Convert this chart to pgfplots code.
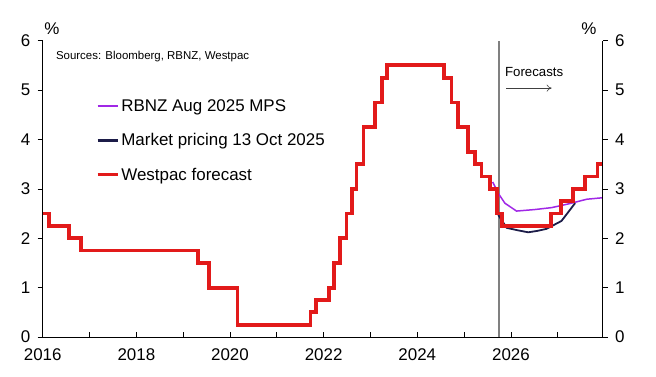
\documentclass[border=0pt]{standalone}
\usepackage{pgfplots}
\pgfplotsset{compat=1.18}
\usepackage{fontspec}
\setmainfont{Liberation Sans}
\usetikzlibrary{arrows.meta}
\definecolor{wred}{RGB}{226,26,26}
\definecolor{wpurple}{RGB}{160,40,230}
\definecolor{wnavy}{RGB}{28,28,72}
\definecolor{wgray}{RGB}{128,128,128}
\begin{document}
\begin{tikzpicture}
\useasboundingbox (-42.7bp,-40bp) rectangle (613.3bp,337bp);
\pgfplotsset{every axis/.append style={
  scale only axis, width=560bp, height=296.3bp,
  xmin=2016, xmax=2027.96, ymin=0, ymax=6,
  /pgf/number format/assume math mode=true,
  /pgf/number format/1000 sep={},
  tick label style={font=\fontsize{17}{17}\selectfont},
  major tick length=5bp, minor tick length=5bp,
  axis line style={line width=0.8pt, black},
  every tick/.style={black, line width=0.7pt},
}}
% main axis with x ticks and data
\begin{axis}[
  axis x line*=bottom, axis y line*=left,
  tick align=inside,
  xtick={2016,2018,...,2026}, minor xtick={2017,2019,...,2027},
  ytick=\empty,
  xticklabel style={yshift=-8.5bp},
  clip=false,
  legend style={draw=none, fill=none, at={(0.095,0.808)}, anchor=north west,
    inner sep=0pt, row sep=16.5bp, font=\fontsize{17}{17}\selectfont},
  legend cell align=left,
  legend image code/.code={\draw[#1] (0bp,0bp) -- (20bp,0bp);},
]
\addplot[wgray, line width=1.5pt, forget plot] coordinates {(2025.75,0) (2025.75,6)};
\addplot[wpurple, line width=1.5pt, legend image post style={line width=2pt}] coordinates {
(2025.61,3.14) (2025.73,2.91) (2025.87,2.71) (2026.12,2.55) (2026.5,2.58) (2026.87,2.62) (2027.25,2.70) (2027.62,2.79) (2027.96,2.82)};
\addlegendentry{RBNZ Aug 2025 MPS}
\addplot[wnavy, line width=1.8pt, legend image post style={line width=2.4pt}] coordinates {
(2025.73,2.47) (2025.91,2.21) (2026.15,2.16) (2026.37,2.12) (2026.57,2.15) (2026.76,2.19) (2027.08,2.35) (2027.37,2.71)};
\addlegendentry{Market pricing 13 Oct 2025}
\addplot[wred, line width=3.8pt, const plot, line join=miter, legend image post style={line width=3.3pt}] table {
x y
2016.00 2.5
2016.14 2.25
2016.56 2.0
2016.81 1.75
2019.32 1.5
2019.55 1.0
2020.16 0.25
2021.72 0.5
2021.83 0.75
2022.11 1.0
2022.22 1.5
2022.35 2.0
2022.49 2.5
2022.60 3.0
2022.70 3.5
2022.85 4.25
2023.10 4.75
2023.24 5.25
2023.36 5.5
2024.57 5.25
2024.73 4.75
2024.87 4.25
2025.09 3.75
2025.23 3.5
2025.37 3.25
2025.56 3.0
2025.71 2.5
2025.81 2.25
2026.85 2.5
2027.07 2.75
2027.33 3.0
2027.59 3.25
2027.85 3.5
2027.96 3.5
};
\addlegendentry{Westpac forecast}
\node[anchor=west, font=\fontsize{11.5}{12}\selectfont, inner sep=0pt] at (axis cs:2016.28,5.67) {Sources: Bloomberg, RBNZ, Westpac};
\node[anchor=west, font=\fontsize{13.3}{14}\selectfont, inner sep=0pt] at (axis cs:2025.87,5.36) {Forecasts};
\draw[-{To[length=5bp,width=7bp]}, line width=0.6pt, black!75] (axis cs:2025.90,5.04) -- (axis cs:2026.87,5.04);
\end{axis}
% left y axis
\begin{axis}[
  axis x line=none, axis y line*=left,
  tick align=outside, ytick={0,...,6},
  yticklabel style={xshift=-4bp},
]
\end{axis}
% right y axis
\begin{axis}[
  axis x line=none, axis y line*=right,
  tick align=outside, ytick={0,...,6},
  yticklabel style={xshift=4bp},
]
\end{axis}
\node[font=\fontsize{17}{17}\selectfont] at (9.3bp,308bp) {\%};
\node[font=\fontsize{17}{17}\selectfont] at (546.3bp,308bp) {\%};
\end{tikzpicture}
\end{document}
